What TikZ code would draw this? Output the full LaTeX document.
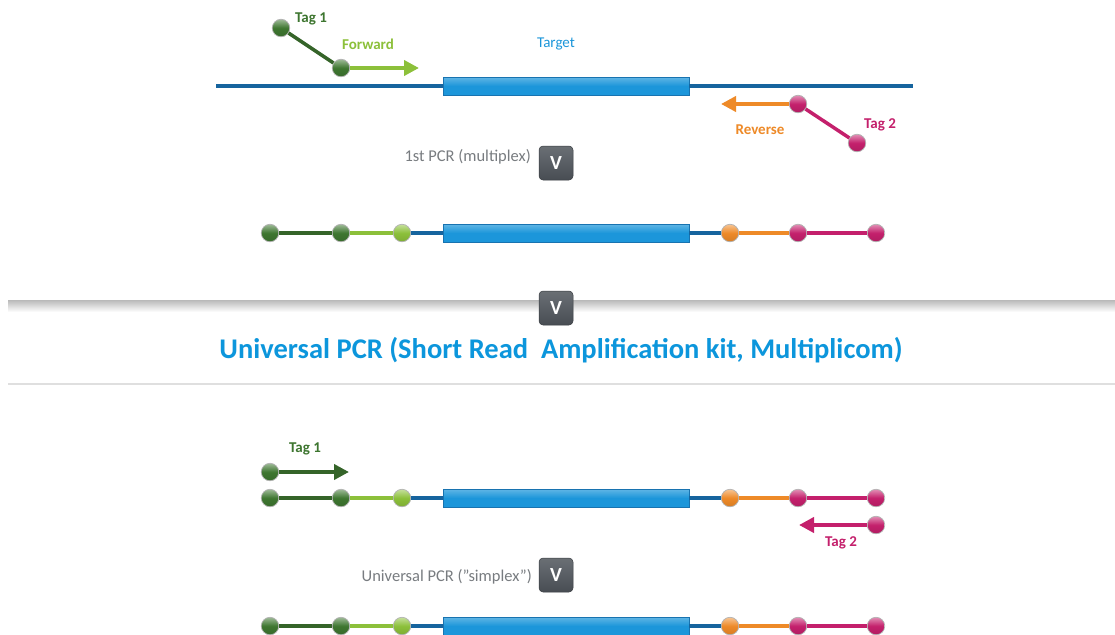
\documentclass[tikz,border=0pt]{standalone}
\usepackage{fontspec}
\setmainfont{Carlito}
\usetikzlibrary{arrows.meta,shapes.misc}
\definecolor{dgreen}{RGB}{62,118,48}
\definecolor{lgreen}{RGB}{140,192,58}
\definecolor{dnablue}{RGB}{22,100,158}
\definecolor{tblue}{RGB}{28,150,218}
\definecolor{orng}{RGB}{238,138,40}
\definecolor{mgnt}{RGB}{196,32,108}
\definecolor{txtgray}{RGB}{120,124,128}
\definecolor{btn}{RGB}{80,86,92}
\definecolor{head}{RGB}{12,150,220}
\tikzset{
  ball/.style={circle, minimum size=17.5pt, inner sep=0pt, draw=gray!60, line width=0.7pt,
               top color=#1!50!white, bottom color=#1!90!black, middle color=#1},
  tgtbox/.style={rectangle, minimum width=246pt, minimum height=18pt, inner sep=0pt,
               draw=dnablue!70!tblue, line width=0.6pt, top color=tblue!70!white, bottom color=tblue, middle color=tblue},
  dna/.style={line width=3.5pt, draw=dnablue},
  seg/.style={line width=3.5pt, draw=#1},
  parrow/.style={line width=4pt, draw=#1, -{Triangle[length=15pt,width=15pt,fill=#1]}},
  lab/.style={font=\fontsize{15}{17}\selectfont\bfseries, text=#1, inner sep=0pt},
  steplab/.style={font=\fontsize{16.5}{19}\selectfont, text=txtgray, inner sep=0pt, anchor=east},
  button/.style={rectangle, rounded corners=4pt, minimum size=34pt, inner sep=0pt,
                 top color=btn!85!white, bottom color=btn!90!black, draw=btn!70!black, line width=0.5pt,
                 text=white, font=\fontsize{20}{20}\selectfont\bfseries}
}
\newcommand\dnarow[2]{%
  \node[ball=dgreen] (#2a) at (270,#1) {};
  \node[ball=dgreen] (#2b) at (341,#1) {};
  \node[ball=lgreen] (#2c) at (402,#1) {};
  \node[tgtbox] (#2t) at (566,#1) {};
  \node[ball=orng] (#2d) at (730,#1) {};
  \node[ball=mgnt] (#2e) at (798,#1) {};
  \node[ball=mgnt] (#2f) at (876,#1) {};
  \draw[seg=dgreen!85!black] (#2a) -- (#2b);
  \draw[seg=lgreen] (#2b) -- (#2c);
  \draw[dna] (#2c) -- (#2t);
  \draw[dna] (#2t) -- (#2d);
  \draw[seg=orng] (#2d) -- (#2e);
  \draw[seg=mgnt] (#2e) -- (#2f);
}
\begin{document}
\begin{tikzpicture}[x=1pt,y=-1pt]
\useasboundingbox (0,0) rectangle (1115,634);
\fill[white] (0,0) rectangle (1115,634);

% ---------- top: primers on target ----------
\coordinate (L0) at (216,86);
\coordinate (R0) at (913,86);
\node[tgtbox] (t0) at (566,86) {};
\draw[dna] (L0) -- (t0);
\draw[dna] (t0) -- (R0);
\node[lab=tblue, font=\fontsize{15}{17}\selectfont] (targetlab) at (556,44) {Target};

\node[ball=dgreen] (tag1a) at (281,28) {};
\node[ball=dgreen] (fwd) at (341,68) {};
\coordinate (fwdtip) at (419,68);
\draw[seg=dgreen!85!black] (tag1a) -- (fwd);
\draw[parrow=lgreen] (fwd) -- (fwdtip);
\node[lab=dgreen] (tag1lab) at (311,19) {Tag 1};
\node[lab=lgreen] (fwdlab) at (368,44) {Forward};

\node[ball=mgnt] (rev) at (798,104) {};
\node[ball=mgnt] (tag2a) at (857,143) {};
\coordinate (revtip) at (721,104);
\draw[seg=mgnt] (rev) -- (tag2a);
\draw[parrow=orng] (rev) -- (revtip);
\node[lab=orng] (revlab) at (760,130) {Reverse};
\node[lab=mgnt] (tag2lab) at (880,125) {Tag 2};

\node[steplab] (s1lab) at (531,157) {1st PCR (multiplex)};
\node[button] (b1) at (556,163) {V};

% ---------- row after 1st PCR ----------
\dnarow{233}{r1}

% ---------- separator ----------
\shade[top color=gray!55, bottom color=white] (8,300) rectangle (1115,312);
\draw[gray!25, line width=1.5pt] (8,384) -- (1115,384);
\node[button] (b2) at (556,308) {V};
\node[font=\fontsize{28.5}{32}\selectfont\bfseries, text=head, inner sep=0pt] (heading) at (561,350)
  {Universal PCR (Short Read\ \ Amplification kit, Multiplicom)};

% ---------- bottom: universal PCR ----------
\node[lab=dgreen] (tag1blab) at (305,449) {Tag 1};
\node[ball=dgreen] (u1) at (270,472) {};
\coordinate (u1tip) at (349,472);
\draw[parrow=dgreen!85!black] (u1) -- (u1tip);

\dnarow{498}{r2}

\node[ball=mgnt] (u2) at (876,525) {};
\coordinate (u2tip) at (799,525);
\draw[parrow=mgnt] (u2) -- (u2tip);
\node[lab=mgnt] (tag2blab) at (841,543) {Tag 2};

\node[steplab] (s2lab) at (532,577) {Universal PCR (”simplex”)};
\node[button] (b3) at (556,575) {V};

\dnarow{626}{r3}
\end{tikzpicture}
\end{document}
